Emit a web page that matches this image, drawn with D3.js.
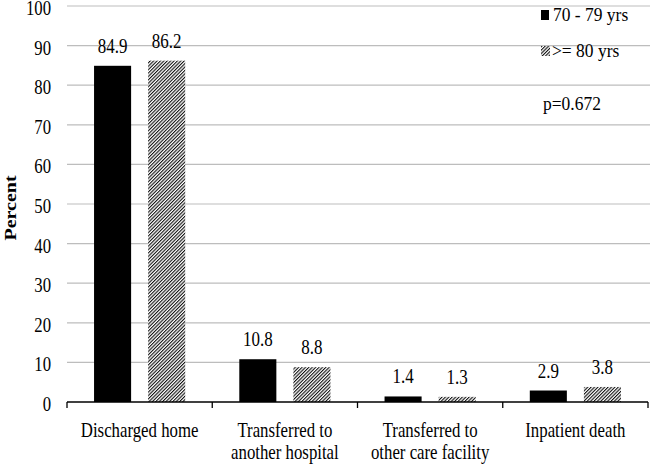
<!DOCTYPE html>
<html><head><meta charset="utf-8">
<script src="https://cdn.jsdelivr.net/npm/d3@7"></script>
<style>body{margin:0;background:#fff}svg{display:block}text{font-family:"Liberation Serif","Times New Roman",serif;fill:#000}</style>
</head><body><div id="chart"></div>
<script>
const categories = ["Discharged home", "Transferred to\nanother hospital", "Transferred to\nother care facility", "Inpatient death"];
const seriesNames = ["70 - 79 yrs", ">= 80 yrs"];
const values70 = [84.9, 10.8, 1.4, 2.9];
const values80 = [86.2, 8.8, 1.3, 3.8];
const yTicks = [0, 10, 20, 30, 40, 50, 60, 70, 80, 90, 100];
const pText = "p=0.672";

const W = 650, H = 465;
const svg = d3.select("#chart").append("svg").attr("width", W).attr("height", H);
const defs = svg.append("defs");
const pat = defs.append("pattern").attr("id", "hatch").attr("patternUnits", "userSpaceOnUse")
  .attr("width", 2.4).attr("height", 10).attr("patternTransform", "rotate(45)");
pat.append("rect").attr("width", 2.4).attr("height", 10).attr("fill", "#fff");
pat.append("rect").attr("width", 1.1).attr("height", 10).attr("fill", "#111");

const x = d3.scaleBand().domain(categories).range([67, 648]).paddingInner(0).paddingOuter(0);
const xs = d3.scaleBand().domain(seriesNames).range([0, x.bandwidth()]).paddingInner(0.315).paddingOuter(0.5);
const y = d3.scaleLinear().domain([0, 100]).range([402, 6]);

function txt(g, s, tx, ty, size, sx, anchor, weight) {
  return g.append("text").attr("transform", `translate(${tx},${ty}) scale(${sx},1)`)
    .attr("font-size", size).attr("text-anchor", anchor || "middle")
    .attr("font-weight", weight || "normal").text(s);
}

// grid
svg.append("g").selectAll("line").data(yTicks.filter(d => d > 0)).join("line")
  .attr("x1", 67).attr("x2", 650).attr("y1", d => y(d)).attr("y2", d => y(d))
  .attr("stroke", "#bdbdbd").attr("stroke-width", 1.2);

// y tick labels
const yl = svg.append("g");
yTicks.forEach(t => txt(yl, String(t), 51, y(t) + 9, 22, 0.76, "end"));

// y title
svg.append("text").attr("transform", `translate(16,208) rotate(-90) scale(1,0.85)`)
  .attr("font-size", 20).attr("font-weight", "bold").attr("text-anchor", "middle").text("Percent");

// bars
const data = categories.map((c, i) => ({c, v: [values70[i], values80[i]]}));
const gb = svg.append("g");
data.forEach(d => {
  d.v.forEach((v, j) => {
    const bx = x(d.c) + xs(seriesNames[j]);
    gb.append("rect").attr("x", bx).attr("y", y(v)).attr("width", xs.bandwidth())
      .attr("height", y(0) - y(v)).attr("fill", j === 0 ? "#000" : "url(#hatch)");
    txt(gb, v.toFixed(1), bx + xs.bandwidth() / 2, y(v) - 13, 22, 0.77, "middle");
  });
});

// x axis
const ax = svg.append("g");
ax.append("line").attr("x1", 67).attr("x2", 648).attr("y1", y(0)).attr("y2", y(0))
  .attr("stroke", "#000").attr("stroke-width", 1.3);
const bounds = categories.map(c => x(c)).concat([x.range()[1]]);
ax.selectAll("line.tk").data(bounds).join("line").attr("class", "tk")
  .attr("x1", d => d).attr("x2", d => d).attr("y1", y(0)).attr("y2", y(0) + 6)
  .attr("stroke", "#000").attr("stroke-width", 1.3);
categories.forEach(c => {
  c.split("\n").forEach((line, k) => {
    txt(ax, line, x(c) + x.bandwidth() / 2, 437 + k * 22, 21, 0.8, "middle");
  });
});

// legend
const lg = svg.append("g");
lg.append("rect").attr("x", 541).attr("y", 10).attr("width", 8).attr("height", 10).attr("fill", "#000");
txt(lg, seriesNames[0], 553, 21, 19, 0.92, "start");
lg.append("rect").attr("x", 541).attr("y", 46).attr("width", 9).attr("height", 10).attr("fill", "url(#hatch)");
txt(lg, seriesNames[1], 552, 57, 19, 0.92, "start");
txt(lg, pText, 543, 110, 19, 0.92, "start");
</script></body></html>
